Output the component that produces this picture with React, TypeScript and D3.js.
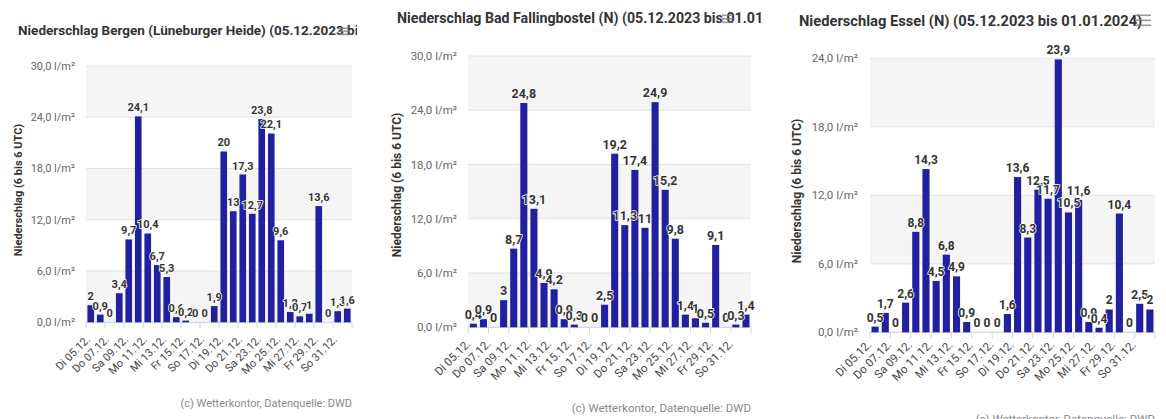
import React from "react";
import * as d3 from "d3";

const dates = [
  "Di 05.12.", "Mi 06.12.", "Do 07.12.", "Fr 08.12.", "Sa 09.12.", "So 10.12.", "Mo 11.12.",
  "Di 12.12.", "Mi 13.12.", "Do 14.12.", "Fr 15.12.", "Sa 16.12.", "So 17.12.", "Mo 18.12.",
  "Di 19.12.", "Mi 20.12.", "Do 21.12.", "Fr 22.12.", "Sa 23.12.", "So 24.12.", "Mo 25.12.",
  "Di 26.12.", "Mi 27.12.", "Do 28.12.", "Fr 29.12.", "Sa 30.12.", "So 31.12.", "Mo 01.01.",
];

const bergen = [2, 0.9, 0, 3.4, 9.7, 24.1, 10.4, 6.7, 5.3, 0.6, 0.2, 0, 0, 1.9,
  20, 13, 17.3, 12.7, 23.8, 22.1, 9.6, 1.2, 0.7, 1, 13.6, 0, 1.3, 1.6];
const fallingbostel = [0.4, 0.9, 0, 3, 8.7, 24.8, 13.1, 4.9, 4.2, 0.9, 0.3, 0, 0, 2.5,
  19.2, 11.3, 17.4, 11, 24.9, 15.2, 9.8, 1.4, 1, 0.5, 9.1, 0, 0.3, 1.4];
const essel = [0.5, 1.7, 0, 2.6, 8.8, 14.3, 4.5, 6.8, 4.9, 0.9, 0, 0, 0, 1.6,
  13.6, 8.3, 12.5, 11.7, 23.9, 10.5, 11.6, 0.9, 0.4, 2, 10.4, 0, 2.5, 2];

const titles = [
  "Niederschlag Bergen (Lüneburger Heide) (05.12.2023 bis 01.01.2024)",
  "Niederschlag Bad Fallingbostel (N) (05.12.2023 bis 01.01.2024)",
  "Niederschlag Essel (N) (05.12.2023 bis 01.01.2024)",
];
const yMaxes = [30, 30, 24];
const yTitle = "Niederschlag (6 bis 6 UTC)";
const credit = "(c) Wetterkontor, Datenquelle: DWD";

const FONT = "Roboto, 'Noto Sans', sans-serif";
const BAR = "#2020a0";

type Layout = {
  clip: [number, number];
  titleX: number; titleY: number; titleSize: number;
  left: number; right: number; top: number; bottom: number;
  yLabelX: number; tickSize: number;
  xdx: number; xdy: number;
  axisX: number; axisY: number; axisSize: number;
  creditX: number; creditY: number; creditSize: number;
  labelSize: number;
  menu: [number, number, number, number];
};

const layouts: Layout[] = [
  { clip: [0, 357], titleX: 18, titleY: 35, titleSize: 13.5, left: 86, right: 352, top: 66, bottom: 322.3,
    yLabelX: 75, tickSize: 11, xdx: 0, xdy: 18, axisX: 18, axisY: 190, axisSize: 11,
    creditX: 352, creditY: 407, creditSize: 11, labelSize: 11, menu: [338, 27.5, 11, 6] },
  { clip: [380, 762], titleX: 397, titleY: 23, titleSize: 14.2, left: 468.3, right: 751, top: 56, bottom: 327.3,
    yLabelX: 457, tickSize: 11.5, xdx: -2, xdy: 17, axisX: 397, axisY: 185, axisSize: 12,
    creditX: 751, creditY: 411.5, creditSize: 11.5, labelSize: 12.5, menu: [722, 14.5, 11, 7] },
  { clip: [770, 1166], titleX: 799, titleY: 26, titleSize: 14.7, left: 870, right: 1155, top: 58.3, bottom: 332.3,
    yLabelX: 858, tickSize: 11.5, xdx: -3, xdy: 13, axisX: 797, axisY: 191, axisSize: 12,
    creditX: 1155, creditY: 423, creditSize: 11.5, labelSize: 12, menu: [1135, 14.5, 16, 10] },
];

const fmt = (v: number | string) => String(v).replace(".", ",");

function Panel({ idx, data }: { idx: number; data: number[] }) {
  const L = layouts[idx];
  const yMax = yMaxes[idx];
  const x = d3.scaleBand<string>().domain(dates).range([L.left, L.right]).paddingInner(0.3).paddingOuter(0.15);
  const y = d3.scaleLinear().domain([0, yMax]).range([L.bottom, L.top]);
  const ticks = d3.range(0, yMax + 0.001, 6);
  const step = x.step();
  const bands = ticks.slice(0, -1).filter((t) => Math.round((yMax - t - 6) / 6) % 2 === 0);
  const clipId = `clip${idx}`;
  return (
    <g>
      <defs>
        <clipPath id={clipId}>
          <rect x={L.clip[0]} y={0} width={L.clip[1] - L.clip[0]} height={419} />
        </clipPath>
      </defs>
      <g clipPath={`url(#${clipId})`}>
        <text x={L.titleX} y={L.titleY} fontFamily={FONT} fontWeight="bold" fontSize={L.titleSize} fill="#333">
          {titles[idx]}
        </text>
      </g>
      <g fill="#777" opacity={0.75}>
        {[0, 1, 2].map((k) => (
          <rect key={k} x={L.menu[0]} y={L.menu[1] + (k * L.menu[3]) / 2} width={L.menu[2]} height={1.6} />
        ))}
      </g>
      {bands.map((t) => (
        <rect key={"b" + t} x={L.left} y={y(t + 6)} width={L.right - L.left} height={y(t) - y(t + 6)} fill="#f5f5f5" />
      ))}
      {ticks.map((t) => (
        <g key={"t" + t}>
          <line x1={L.left} x2={L.right} y1={y(t)} y2={y(t)} stroke="#e2e2e2" strokeWidth={1} />
          <text x={L.yLabelX} y={y(t)} dy="0.35em" textAnchor="end" fontFamily={FONT} fontSize={L.tickSize} fill="#666">
            {fmt(t.toFixed(1))} l/m²
          </text>
        </g>
      ))}
      <line x1={L.left} x2={L.right} y1={y(0)} y2={y(0)} stroke="#ccd6eb" strokeWidth={1} />
      {d3.range(0, dates.length + 1, 2).map((i) => (
        <line key={"xt" + i} x1={L.left + i * step} x2={L.left + i * step} y1={y(0)} y2={y(0) + 6} stroke="#ccd6eb" />
      ))}
      {data.map((v, i) => (
        <rect key={"r" + i} x={x(dates[i])} y={y(v)} width={x.bandwidth()} height={y(0) - y(v)} fill={BAR} />
      ))}
      {data.map((v, i) => (
        <text key={"l" + i} x={(x(dates[i]) as number) + x.bandwidth() / 2} y={y(v) - 5} textAnchor="middle"
          fontFamily={FONT} fontWeight="bold" fontSize={L.labelSize} fill="#333"
          stroke="#fff" strokeWidth={1.5} paintOrder="stroke" strokeLinejoin="round">
          {fmt(v)}
        </text>
      ))}
      {dates.map((d, i) => i % 2 === 0 ? (
        <text key={"x" + i}
          transform={`translate(${(x(d) as number) + x.bandwidth() / 2 + L.xdx},${y(0) + L.xdy}) rotate(-45)`}
          textAnchor="end" fontFamily={FONT} fontSize={L.tickSize} fill="#444">
          {d}
        </text>
      ) : null)}
      <text transform={`translate(${L.axisX},${L.axisY}) rotate(-90)`} textAnchor="middle" dy="0.35em"
        fontFamily={FONT} fontWeight="bold" fontSize={L.axisSize} fill="#333">
        {yTitle}
      </text>
      <text x={L.creditX} y={L.creditY} textAnchor="end" fontFamily={FONT} fontSize={L.creditSize} fill="#888">
        {credit}
      </text>
    </g>
  );
}

export default function App() {
  const series = [bergen, fallingbostel, essel];
  return (
    <svg width={1166} height={419} style={{ position: "absolute", left: 0, top: 0, background: "#fff" }}>
      <rect width={1166} height={419} fill="#fff" />
      {series.map((s, i) => (
        <Panel key={i} idx={i} data={s} />
      ))}
    </svg>
  );
}
